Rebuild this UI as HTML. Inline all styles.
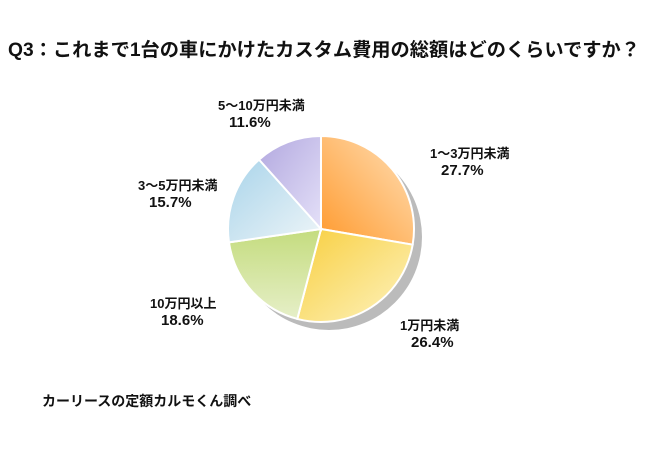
<!DOCTYPE html>
<html><head><meta charset="utf-8"><style>
html,body{margin:0;padding:0;background:#fff;}
svg{display:block;font-family:"Liberation Sans","Noto Sans CJK JP",sans-serif;}
</style></head><body>
<svg width="650" height="451" viewBox="0 0 650 451">
<defs>
<linearGradient id="g0" x1="0" y1="1" x2="1" y2="0"><stop offset="0" stop-color="#ff9a2e"/><stop offset="1" stop-color="#ffe0b8"/></linearGradient>
<linearGradient id="g1" x1="0" y1="0" x2="1" y2="1"><stop offset="0" stop-color="#f8cf40"/><stop offset="1" stop-color="#fdf3c0"/></linearGradient>
<linearGradient id="g2" x1="0.5" y1="0" x2="0.5" y2="1"><stop offset="0" stop-color="#c4dc7e"/><stop offset="1" stop-color="#e6efc8"/></linearGradient>
<linearGradient id="g3" x1="0" y1="0" x2="1" y2="1"><stop offset="0" stop-color="#a9d4ea"/><stop offset="1" stop-color="#eef5f8"/></linearGradient>
<linearGradient id="g4" x1="0" y1="0" x2="1" y2="1"><stop offset="0" stop-color="#b2a8df"/><stop offset="1" stop-color="#e4e0f8"/></linearGradient>
</defs>
<text x="8" y="56" font-size="19" font-weight="bold" fill="#111" textLength="632" lengthAdjust="spacingAndGlyphs">Q3：これまで1台の車にかけたカスタム費用の総額はどのくらいですか？</text>
<circle cx="329" cy="237" r="93" fill="#bbbbbb"/>
<g id="slices"></g>
<g id="labels" font-weight="bold" fill="#111"></g>
<text x="42" y="406" font-size="14" font-weight="bold" fill="#111">カーリースの定額カルモくん調べ</text>
</svg>
<script>
const categories = ["1〜3万円未満","1万円未満","10万円以上","3〜5万円未満","5〜10万円未満"];
const values = [27.7, 26.4, 18.6, 15.7, 11.6];
const valueLabels = ["27.7%","26.4%","18.6%","15.7%","11.6%"];
const fills = ["url(#g0)","url(#g1)","url(#g2)","url(#g3)","url(#g4)"];
const labelPos = [[430,158],[400,330],[150,308],[138,190],[218,110]];
const cx=321, cy=229, r=93;
const total = values.reduce((a,b)=>a+b,0);
const ns="http://www.w3.org/2000/svg";
const sg=document.getElementById('slices'), lg=document.getElementById('labels');
function pt(a){return [cx+r*Math.sin(a), cy-r*Math.cos(a)];}
let acc=0;
values.forEach((v,i)=>{
  const a0=acc/total*2*Math.PI; acc+=v; const a1=acc/total*2*Math.PI;
  const p0=pt(a0), p1=pt(a1);
  const path=document.createElementNS(ns,'path');
  path.setAttribute('d',`M${cx},${cy}L${p0[0]},${p0[1]}A${r},${r} 0 ${a1-a0>Math.PI?1:0} 1 ${p1[0]},${p1[1]}Z`);
  path.setAttribute('fill',fills[i]);
  path.setAttribute('stroke','#fff');
  path.setAttribute('stroke-width','2');
  
  
  sg.appendChild(path);
  const t=document.createElementNS(ns,'text');
  t.setAttribute('x',labelPos[i][0]); t.setAttribute('y',labelPos[i][1]);
  t.setAttribute('font-size','13');
  
  
  t.textContent=categories[i];
  lg.appendChild(t);
  const t2=document.createElementNS(ns,'text');
  t2.setAttribute('x',labelPos[i][0]+11); t2.setAttribute('y',labelPos[i][1]+17);
  t2.setAttribute('font-size','15');
  
  
  t2.textContent=valueLabels[i];
  lg.appendChild(t2);
});
</script>
</body></html>
